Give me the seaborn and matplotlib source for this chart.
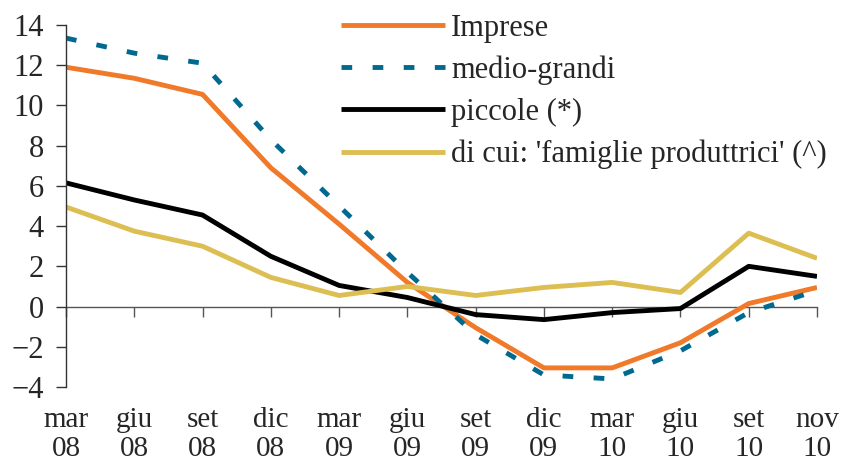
import matplotlib
matplotlib.use("Agg")
import matplotlib.pyplot as plt
import seaborn as sns
import numpy as np
import pandas as pd

# periodi (mese / anno)
months = ["mar", "giu", "set", "dic", "mar", "giu", "set", "dic", "mar", "giu", "set", "nov"]
years = ["08", "08", "08", "08", "09", "09", "09", "09", "10", "10", "10", "10"]

imprese = [11.9, 11.35, 10.55, 6.9, 4.1, 1.2, -1.05, -3.05, -3.05, -1.8, 0.15, 0.95]
medio_grandi = [13.35, 12.6, 12.1, 8.3, 5.0, 1.7, -1.4, -3.4, -3.6, -2.2, -0.3, 0.8]
piccole = [6.15, 5.3, 4.55, 2.5, 1.05, 0.45, -0.4, -0.65, -0.3, -0.1, 2.0, 1.5]
famiglie = [4.95, 3.75, 3.0, 1.45, 0.55, 1.0, 0.55, 0.95, 1.2, 0.7, 3.65, 2.4]

series = ["Imprese", "medio-grandi", "piccole (*)", "di cui: 'famiglie produttrici' (^)"]
colors = ["#F07A2A", "#00698F", "#000000", "#DDBE52"]

labels = [f"{m}\n{y}" for m, y in zip(months, years)]
pos = np.arange(len(labels))

df = pd.DataFrame({
    "pos": np.tile(pos, 4),
    "val": imprese + medio_grandi + piccole + famiglie,
    "serie": np.repeat(series, len(pos)),
})

sns.set_style("white")
plt.rcParams["font.family"] = ["Liberation Serif", "DejaVu Serif"]

fig = plt.figure(figsize=(8.41, 4.69), dpi=100)
ax = fig.add_axes([66 / 841, 1 - 387 / 469, (817 - 66) / 841, (387 - 25) / 469])

lw = 3.5
sns.lineplot(data=df, x="pos", y="val", hue="serie", style="serie",
             palette=colors, hue_order=series, style_order=series,
             dashes=[(1, 0), (2.2, 4.2), (1, 0), (1, 0)],
             linewidth=lw, ax=ax, legend=True)

ax.set_xlim(pos[0], pos[-1])
ax.set_ylim(-4, 14)
ax.set_yticks(range(-4, 15, 2))
ax.set_xticks(pos)
ax.set_xticklabels(labels, linespacing=1.15)
ax.set_xlabel("")
ax.set_ylabel("")

for s in ["top", "right", "bottom"]:
    ax.spines[s].set_visible(False)
ax.spines["left"].set_color("#333333")
ax.spines["left"].set_linewidth(1)

ax.tick_params(axis="y", left=True, length=7, width=1, color="#333333",
               labelsize=22, pad=9)
ax.tick_params(axis="x", bottom=False, labelsize=21, pad=11)

# asse dello zero con le tacche
zero_ax = ax.secondary_xaxis(4 / 18)
zero_ax.set_xticks(pos)
zero_ax.set_xticklabels([])
zero_ax.tick_params(axis="x", length=7, width=1, color="#555555", direction="out")
zero_ax.spines["bottom"].set_color("#555555")
zero_ax.spines["bottom"].set_linewidth(1)

leg = ax.legend(loc="upper left", bbox_to_anchor=(0.35, 1.065), frameon=False,
                fontsize=22, handlelength=3.4, handletextpad=0.2,
                labelspacing=0.42, borderaxespad=0)
for h in leg.get_lines():
    h.set_linewidth(lw)

fig.savefig("out.png", dpi=100)
